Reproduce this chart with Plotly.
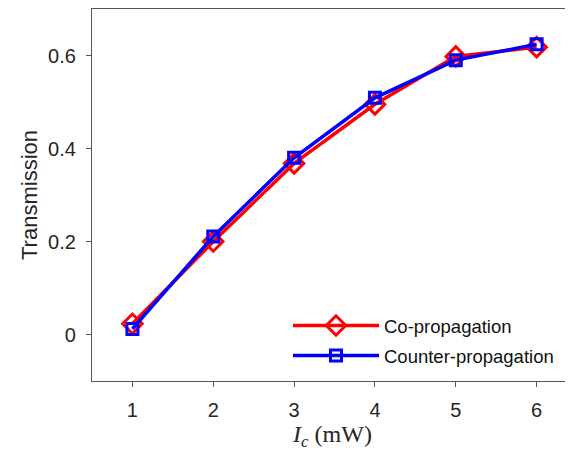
import plotly.graph_objects as go

power = [1, 2, 3, 4, 5, 6]
co_prop = [0.023, 0.200, 0.368, 0.495, 0.598, 0.618]
counter_prop = [0.012, 0.211, 0.380, 0.509, 0.590, 0.624]
x_ticks = [1, 2, 3, 4, 5, 6]
y_ticks = [0, 0.2, 0.4, 0.6]
y_tick_labels = ["0", "0.2", "0.4", "0.6"]

fig = go.Figure()
fig.add_trace(go.Scatter(
    x=power, y=co_prop, mode="lines+markers", name="Co-propagation", legendgroup="co",
    line=dict(color="#ff0000", width=3.5),
    marker=dict(symbol="diamond-open", size=15, color="#ff0000", line=dict(width=3, color="#ff0000")),
))
fig.add_trace(go.Scatter(
    x=power, y=counter_prop, mode="lines+markers", name="Counter-propagation", legendgroup="counter",
    line=dict(color="#0000ff", width=3.5),
    marker=dict(symbol="square-open", size=11, color="#0000ff", line=dict(width=3, color="#0000ff")),
))

axis_col = "#555555"
# page body has an 8px default margin; figure size/margins compensate for it
fig.update_layout(
    width=565, height=448,
    margin=dict(l=84, r=0, t=1, b=75, autoexpand=False),
    paper_bgcolor="white", plot_bgcolor="white",
    font=dict(family="Liberation Sans, Arial, sans-serif", color="#262626"),
    showlegend=True,
    legend=dict(x=0.4075, y=0.199, xanchor="left", yanchor="top",
                bgcolor="rgba(0,0,0,0)", font=dict(size=18.5, color="#111111"),
                itemwidth=86, tracegroupgap=3),
    xaxis=dict(range=[0.5, 6.45], tickvals=x_ticks, showgrid=False, zeroline=False, automargin=False,
               showline=True, linecolor=axis_col, linewidth=1.2, mirror="ticks",
               ticks="outside", ticklen=5, tickcolor=axis_col, ticklabelstandoff=6,
               tickfont=dict(size=20, color="#262626"),
               title=dict(text="<i>I</i><sub><i>c</i></sub> (mW)",
                          font=dict(family="Liberation Serif, DejaVu Serif, serif", size=24, color="#262626"),
                          standoff=2)),
    yaxis=dict(range=[-0.1, 0.7], tickvals=y_ticks, ticktext=y_tick_labels, showgrid=False, zeroline=False,
               automargin=False,
               showline=True, linecolor=axis_col, linewidth=1.2,
               ticks="outside", ticklen=5, tickcolor=axis_col, ticklabelstandoff=6,
               tickfont=dict(size=20, color="#262626"),
               title=dict(text="Transmission", font=dict(size=22, color="#262626"), standoff=4)),
)

fig.write_html("out.html")
